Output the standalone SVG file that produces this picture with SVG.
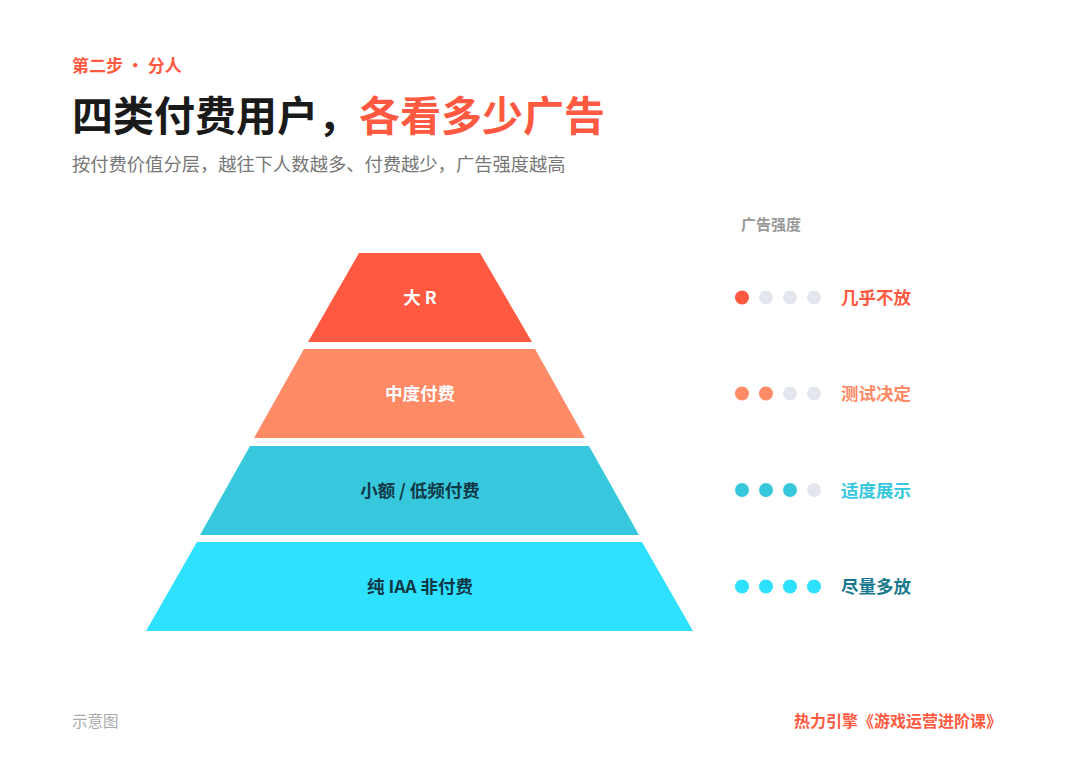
<svg xmlns="http://www.w3.org/2000/svg" width="1080" height="759" viewBox="0 0 1080 759">
<style>
text{font-family:"Noto Sans CJK SC","Noto Sans",sans-serif}
.b{font-weight:700}
.tl{font-size:17.5px;font-weight:700;text-anchor:middle;dominant-baseline:central}
.w{fill:#ffffff}
.d{fill:#0f3846}
.lab{font-size:17.5px;font-weight:700;dominant-baseline:central}
.off{fill:#e3e6ec}
.c1{fill:#ff5a41}.c2{fill:#ff8a66}.c3{fill:#38c8de}.c4{fill:#2ee1ff}
</style>
<rect width="1080" height="759" fill="#ffffff"/>
<g id="header">
<text x="72" y="72" class="b" font-size="17" fill="#ff5a41">第二步 · 分人</text>
<text x="72" y="131" class="b" font-size="41" fill="#1a1a1a">四类付费用户，<tspan fill="#ff5a41">各看多少广告</tspan></text>
<text x="72" y="171" font-size="18.3" fill="#777777">按付费价值分层，越往下人数越多、付费越少，广告强度越高</text>
</g>
<g id="legend-title"><text x="741" y="230" class="b" font-size="15" fill="#9a9a9a">广告强度</text></g>
<g id="tier1">
<polygon class="c1" points="359,253 480,253 532,342 308,342"/>
<text x="420" y="296" class="tl w">大 R</text>
</g>
<g id="tier2">
<polygon class="c2" points="304,349 535,349 585,438 254,438"/>
<text x="420" y="392" class="tl w">中度付费</text>
</g>
<g id="tier3">
<polygon class="c3" points="250,446 589,446 639,535 200,535"/>
<text x="420" y="489" class="tl d">小额 / 低频付费</text>
</g>
<g id="tier4">
<polygon class="c4" points="197,542 642,542 693,631 146,631"/>
<text x="420" y="585" class="tl d">纯 IAA 非付费</text>
</g>
<g id="row1">
<circle cx="742" cy="297.5" r="7" class="c1"/><circle cx="766" cy="297.5" r="7" class="off"/><circle cx="790" cy="297.5" r="7" class="off"/><circle cx="814" cy="297.5" r="7" class="off"/>
<text x="841" y="296" class="lab" fill="#ff5a41">几乎不放</text>
</g>
<g id="row2">
<circle cx="742" cy="393.5" r="7" class="c2"/><circle cx="766" cy="393.5" r="7" class="c2"/><circle cx="790" cy="393.5" r="7" class="off"/><circle cx="814" cy="393.5" r="7" class="off"/>
<text x="841" y="392" class="lab" fill="#ff8a66">测试决定</text>
</g>
<g id="row3">
<circle cx="742" cy="490" r="7" class="c3"/><circle cx="766" cy="490" r="7" class="c3"/><circle cx="790" cy="490" r="7" class="c3"/><circle cx="814" cy="490" r="7" class="off"/>
<text x="841" y="489" class="lab" fill="#38c8de">适度展示</text>
</g>
<g id="row4">
<circle cx="742" cy="586.5" r="7" class="c4"/><circle cx="766" cy="586.5" r="7" class="c4"/><circle cx="790" cy="586.5" r="7" class="c4"/><circle cx="814" cy="586.5" r="7" class="c4"/>
<text x="841" y="585" class="lab" fill="#16788c">尽量多放</text>
</g>
<g id="connectors"></g>
<g id="footer">
<text x="72" y="727" font-size="15.5" fill="#aaaaaa">示意图</text>
<text x="1002" y="727" class="b" font-size="16" fill="#ff5a41" text-anchor="end">热力引擎《游戏运营进阶课》</text>
</g>
</svg>
